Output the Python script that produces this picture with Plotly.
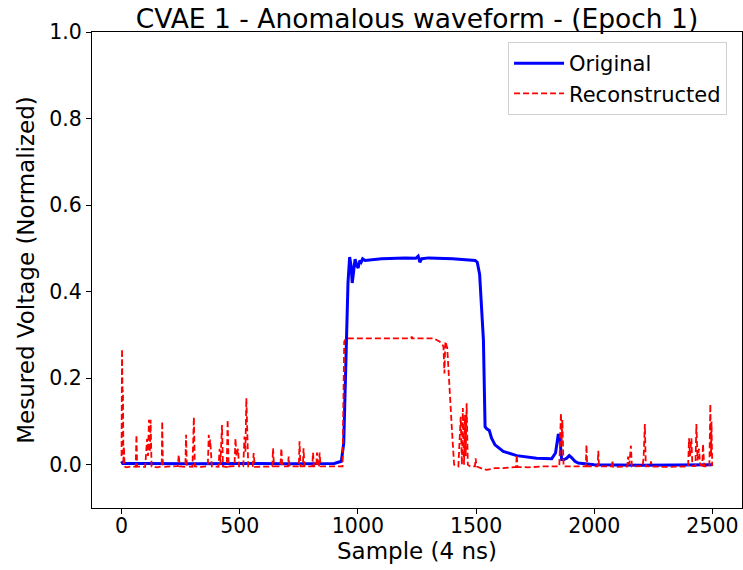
import plotly.graph_objects as go

# Original waveform (blue), vertices
orig_x = [0, 5, 100, 300, 500, 700, 900, 930, 940, 950, 958, 965, 971, 976, 982, 988, 995,
          1001, 1008, 1014, 1020, 1030, 1100, 1200, 1245, 1255, 1262, 1270, 1300, 1400,
          1496, 1505, 1515, 1525, 1531, 1538, 1545, 1556, 1565, 1580, 1615, 1672, 1756,
          1820, 1836, 1848, 1855, 1862, 1872, 1883, 1894, 1905, 1918, 1932, 2000, 2200,
          2400, 2500]
orig_y = [0.008, 0.003, 0.003, 0.002, 0.003, 0.002, 0.003, 0.008, 0.05, 0.25, 0.42, 0.48,
          0.46, 0.42, 0.45, 0.475, 0.46, 0.455, 0.472, 0.468, 0.476, 0.472, 0.476, 0.478,
          0.477, 0.482, 0.468, 0.476, 0.478, 0.476, 0.472, 0.468, 0.44, 0.36, 0.288,
          0.088, 0.083, 0.079, 0.062, 0.046, 0.031, 0.021, 0.015, 0.014, 0.027, 0.071,
          0.058, 0.012, 0.012, 0.015, 0.021, 0.016, 0.008, 0.004, 0.0, -0.001, 0.0, 0.0]

# Reconstructed waveform (red, dashed)
recon_x = [0, 2, 4, 6, 8, 10, 13, 20, 40, 60, 63, 66, 100, 108, 112, 116, 120, 123, 127,
           150, 170, 172, 175, 200, 238, 242, 246, 270, 273, 276, 300, 306, 310, 340, 365,
           369, 372, 375, 378, 382, 410, 415, 418, 425, 429, 445, 449, 453, 478, 482, 486,
           493, 497, 515, 520, 524, 528, 532, 536, 555, 559, 564, 600, 638, 641, 645, 672,
           676, 680, 704, 707, 711, 750, 753, 757, 767, 770, 774, 807, 810, 814, 824, 827,
           831, 835, 838, 842, 900, 935, 942, 950, 1100, 1225, 1228, 1231, 1320, 1327,
           1345, 1355, 1362, 1366, 1370, 1378, 1387, 1397, 1407, 1425, 1435, 1440, 1444,
           1449, 1453, 1456, 1460, 1465, 1475, 1495, 1498, 1502, 1520, 1545, 1580, 1615,
           1669, 1672, 1675, 1720, 1780, 1841, 1852, 1859, 1862, 1865, 1870, 1900, 1964,
           1967, 1970, 2014, 2017, 2020, 2074, 2077, 2080, 2140, 2143, 2148, 2155, 2159,
           2205, 2209, 2214, 2218, 2237, 2240, 2243, 2300, 2397, 2401, 2405, 2411, 2415,
           2428, 2432, 2437, 2443, 2448, 2457, 2460, 2465, 2487, 2491, 2494, 2496, 2499]
recon_y = [0.02, 0.267, 0.17, 0.17, 0.0, 0.042, -0.004, -0.006, -0.004, -0.005, 0.069,
           -0.004, -0.005, 0.06, 0.02, 0.104, 0.03, 0.104, -0.004, -0.006, -0.004, 0.10,
           -0.005, -0.004, -0.003, 0.023, -0.004, -0.005, 0.069, -0.004, -0.005, 0.11,
           -0.004, -0.005, -0.003, 0.069, 0.04, 0.058, 0.01, -0.004, -0.005, 0.037, 0.0,
           0.092, -0.004, -0.005, 0.104, -0.004, -0.003, 0.061, 0.02, 0.037, -0.004,
           -0.004, 0.065, 0.03, 0.154, 0.04, -0.004, -0.003, 0.027, -0.005, -0.004,
           -0.004, 0.038, -0.004, -0.004, 0.038, -0.004, -0.004, 0.019, -0.004, -0.004,
           0.054, -0.004, -0.004, 0.038, -0.004, -0.004, 0.028, -0.004, -0.004, 0.028,
           -0.004, -0.004, 0.028, -0.004, -0.005, -0.004, 0.285, 0.292, 0.292, 0.292,
           0.296, 0.292, 0.292, 0.29, 0.285, 0.28, 0.273, 0.211, 0.285, 0.27, 0.173,
           0.088, 0.0, -0.004, 0.111, 0.0, 0.131, 0.0, 0.115, 0.02, 0.142, 0.0, -0.004,
           -0.004, 0.015, -0.004, -0.008, -0.012, -0.008, -0.008, -0.005, 0.023, -0.005,
           -0.006, -0.004, -0.003, -0.004, 0.119, 0.05, 0.104, -0.004, -0.004, -0.004,
           0.046, -0.004, -0.004, 0.032, -0.004, -0.004, 0.01, -0.005, -0.004, 0.019, 0.0,
           0.044, -0.004, -0.003, 0.02, 0.094, -0.004, -0.004, 0.008, -0.004, -0.005,
           -0.004, 0.061, 0.02, 0.061, -0.003, -0.003, 0.094, 0.01, 0.037, 0.0, -0.002,
           0.048, -0.004, -0.004, 0.14, 0.02, 0.1, -0.003]

x_ticks = [0, 500, 1000, 1500, 2000, 2500]
y_ticks = [0.0, 0.2, 0.4, 0.6, 0.8, 1.0]

FONT = "DejaVu Sans, sans-serif"

fig = go.Figure()
fig.add_trace(go.Scatter(x=orig_x, y=orig_y, mode="lines", name="Original",
                         line=dict(color="#0000ff", width=3)))
fig.add_trace(go.Scatter(x=recon_x, y=recon_y, mode="lines", name="Reconstructed",
                         line=dict(color="#ff0000", width=1.8, dash="6px,3px")))

axis_common = dict(showline=True, mirror=True, linecolor="black", linewidth=1,
                   ticks="outside", ticklen=5, tickcolor="black", showgrid=False,
                   zeroline=False, automargin=False,
                   tickfont=dict(size=20.5, color="black"))

fig.update_layout(
    width=743, height=570,
    margin=dict(l=92, r=1, t=32, b=62),
    paper_bgcolor="white", plot_bgcolor="white",
    font=dict(family=FONT, color="black"),
    title=dict(text="CVAE 1 - Anomalous waveform - (Epoch 1)", font=dict(size=26.5),
               xref="paper", x=0.5, xanchor="center", y=0.968, yanchor="middle"),
    xaxis=dict(range=[-125, 2625], tickvals=x_ticks, ticklabelstandoff=-6,
               title=dict(text="Sample (4 ns)", font=dict(size=23), standoff=0),
               **axis_common),
    yaxis=dict(range=[-0.1, 1.0], tickvals=y_ticks, tickformat=".1f",
               title=dict(text="Mesured Voltage (Normalized)", font=dict(size=23), standoff=8),
               **axis_common),
    legend=dict(x=0.977, xanchor="right", y=0.979, yanchor="top", itemwidth=50,
                bgcolor="white", bordercolor="#d0d0d0", borderwidth=1,
                font=dict(size=21)),
    showlegend=True,
)

# drop the default body margin so the 743x570 figure fills the window exactly
fig.write_html("out.html", config={"displayModeBar": False},
               post_script="document.body.style.margin='0';"
                           "document.body.style.overflow='hidden';")
